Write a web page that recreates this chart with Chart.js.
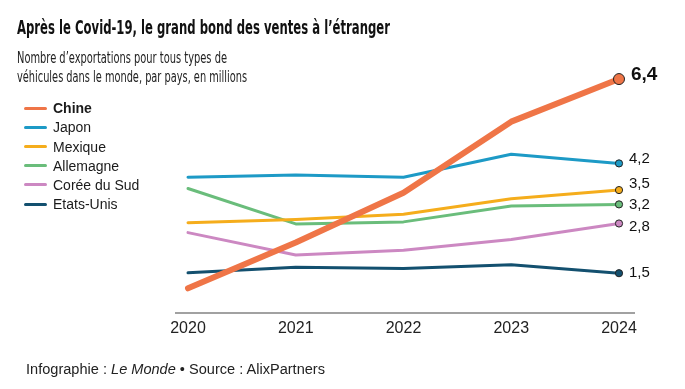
<!DOCTYPE html>
<html>
<head>
<meta charset="utf-8">
<script src="https://cdn.jsdelivr.net/npm/chart.js@4.4.1/dist/chart.umd.min.js"></script>
<style>
  body { margin: 0; background: #fff; }
  #wrap { position: relative; width: 685px; height: 389px; overflow: hidden; }
  #wrap canvas { position: absolute; left: 0; top: 0; }
  .txt { position: absolute; white-space: nowrap; transform-origin: 0 0; line-height: 1; }
  .title { left: 17px; top: 15.5px; font: bold 19.5px 'Liberation Sans Narrow', 'DejaVu Sans Condensed', 'Liberation Sans', sans-serif; color: #111; }
  .sub { left: 17px; font: 15px 'Liberation Sans Narrow', 'DejaVu Sans Condensed', 'Liberation Sans', sans-serif; color: #222; }
  .foot { left: 26px; top: 360.5px; font: 14px 'Liberation Sans', sans-serif; color: #222; }
  .leg { position: absolute; left: 24px; height: 14px; width: 160px; font: 14px 'Liberation Sans', sans-serif; color: #1a1a1a; line-height: 1; }
  .leg i { position: absolute; left: 0; top: 5.5px; width: 23px; height: 3px; border-radius: 1.5px; }
  .leg span { position: absolute; left: 29px; top: 0; white-space: nowrap; }
</style>
</head>
<body>
<div id="wrap">
  <canvas id="chart" width="685" height="389"></canvas>
  <div class="txt title" id="title">Après le Covid-19, le grand bond des ventes à l’étranger</div>
  <div class="txt sub" id="sub1" style="top:49.4px">Nombre d’exportations pour tous types de</div>
  <div class="txt sub" id="sub2" style="top:67.8px">véhicules dans le monde, par pays, en millions</div>
  <div id="legend"></div>
  <div class="txt foot" id="foot">Infographie : <i>Le Monde</i> • Source : AlixPartners</div>
</div>
<script>
// valeurs (millions)
const years = ['2020', '2021', '2022', '2023', '2024'];
const countries = ['Chine', 'Japon', 'Mexique', 'Allemagne', 'Corée du Sud', 'Etats-Unis'];
const chine     = [1.10, 2.25, 3.50, 5.29, 6.36];
const japon     = [3.89, 3.95, 3.89, 4.47, 4.24];
const mexique   = [2.75, 2.83, 2.96, 3.35, 3.57];
const allemagne = [3.61, 2.72, 2.77, 3.17, 3.21];
const coree     = [2.50, 1.94, 2.06, 2.33, 2.73];
const etatsUnis = [1.49, 1.63, 1.60, 1.69, 1.48];
const endLabels = ['6,4', '4,2', '3,5', '3,2', '2,8', '1,5'];

const series = [chine, japon, mexique, allemagne, coree, etatsUnis];
const colors = ['#ef7547', '#1d9ac6', '#f5ad1c', '#6abd7b', '#cc88c2', '#13506f'];

// legende
const legend = document.getElementById('legend');
countries.forEach(function(name, i) {
    const row = document.createElement('div');
    row.className = 'leg';
    row.style.top = (108.3 + i * 19.15 - 7) + 'px';
    row.innerHTML = '<i style="background:' + colors[i] + '"></i><span' +
        (i === 0 ? ' style="font-weight:bold"' : '') + '>' + name + '</span>';
    legend.appendChild(row);
});

const extras = {
    id: 'extras',
    beforeDatasetsDraw(chart) {
        const ctx = chart.ctx;
        const a = chart.chartArea;
        ctx.save();
        ctx.strokeStyle = '#444';
        ctx.lineWidth = 1.2;
        ctx.beginPath();
        ctx.moveTo(a.left - 13, a.bottom + 0.8);
        ctx.lineTo(a.right + 16, a.bottom + 0.8);
        ctx.stroke();
        ctx.restore();
    },
    afterDatasetsDraw(chart) {
        const ctx = chart.ctx;
        const nudge = [-4, -5, -6, 0, 3.5, 0];
        ctx.save();
        ctx.fillStyle = '#111';
        ctx.textBaseline = 'middle';
        chart.data.datasets.forEach(function(ds, i) {
            const pts = chart.getDatasetMeta(i).data;
            const p = pts[pts.length - 1];
            ctx.font = i === 0 ? 'bold 19px "Liberation Sans"' : '15px "Liberation Sans"';
            ctx.fillText(endLabels[i], p.x + (i === 0 ? 12 : 10), p.y + nudge[i]);
        });
        ctx.restore();
    }
};

new Chart(document.getElementById('chart'), {
    type: 'line',
    data: {
        labels: years,
        datasets: series.map(function(vals, i) {
            return {
                label: countries[i],
                data: vals,
                borderColor: colors[i],
                borderWidth: i === 0 ? 6 : 3,
                borderCapStyle: 'round',
                borderJoinStyle: 'round',
                tension: 0,
                clip: false,
                pointRadius: function(c) { return c.dataIndex === years.length - 1 ? (i === 0 ? 5.5 : 3.6) : 0; },
                pointHoverRadius: 0,
                pointBackgroundColor: colors[i],
                pointBorderColor: '#222',
                pointBorderWidth: 1
            };
        })
    },
    options: {
        responsive: false,
        animation: false,
        layout: { padding: { left: 188, right: 66, top: 53.6, bottom: 46.8 } },
        plugins: { legend: { display: false }, tooltip: { enabled: false } },
        scales: {
            x: {
                grid: { display: false, drawTicks: false },
                border: { display: false },
                ticks: {
                    padding: 7,
                    color: '#222',
                    maxRotation: 0,
                    autoSkip: false,
                    font: { family: 'Liberation Sans', size: 16 }
                },
                afterFit: function(s) { s.height = 30; }
            },
            y: { display: false, min: 0.5, max: 7 }
        }
    },
    plugins: [extras]
});

// ajuste la largeur des textes condenses
function fit(id, w) {
    const el = document.getElementById(id);
    const cur = el.getBoundingClientRect().width;
    el.style.transform = 'scaleX(' + (w / cur) + ')';
}
fit('title', 373);
fit('sub1', 210);
fit('sub2', 230);
fit('foot', 299);
</script>
</body>
</html>
